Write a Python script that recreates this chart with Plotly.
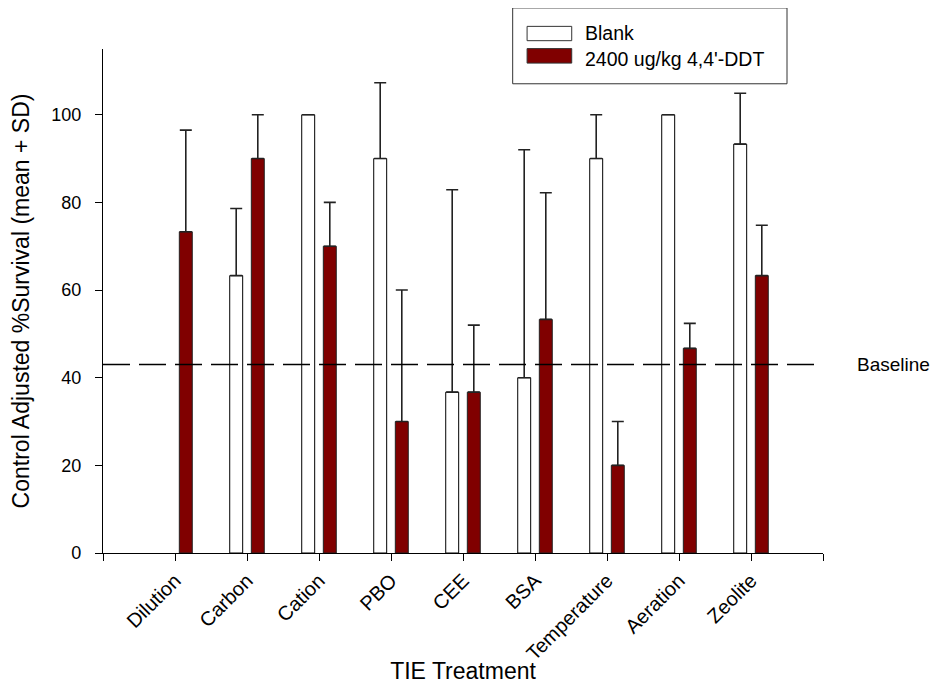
import plotly.graph_objects as go

# TIE treatments, survival (mean + SD)
treatments = ["Dilution", "Carbon", "Cation", "PBO", "CEE", "BSA",
              "Temperature", "Aeration", "Zeolite"]
blank_mean = [None, 63.3, 100, 90, 36.7, 40, 90, 100, 93.3]
blank_sd = [None, 15.3, 0, 17.3, 46.2, 52, 10, 0, 11.6]
ddt_mean = [73.3, 90, 70, 30, 36.7, 53.3, 20, 46.7, 63.3]
ddt_sd = [23.2, 10, 10, 30, 15.3, 28.9, 10, 5.7, 11.5]
baseline = 43
series_names = ["Blank", "2400 ug/kg 4,4'-DDT"]
y_ticks = [0, 20, 40, 60, 80, 100]

FONT = "Liberation Sans, Arial, sans-serif"
RED = "#800000"

xpos = [i + 1 for i in range(len(treatments))]

fig = go.Figure()
fig.add_trace(go.Bar(
    x=xpos, y=blank_mean, name=series_names[0],
    marker=dict(color="white", line=dict(color="black", width=1)),
    error_y=dict(type="data", symmetric=False, array=blank_sd,
                 arrayminus=[0] * len(blank_sd),
                 color="#222", thickness=1.6, width=6),
    showlegend=False,
))
fig.add_trace(go.Bar(
    x=xpos, y=ddt_mean, name=series_names[1],
    marker=dict(color=RED, line=dict(color="#222", width=1)),
    error_y=dict(type="data", symmetric=False, array=ddt_sd,
                 arrayminus=[0] * len(ddt_sd),
                 color="#222", thickness=1.6, width=6),
    showlegend=False,
))

# dashed baseline
fig.add_shape(type="line", xref="x", yref="y", x0=0, x1=len(treatments) + 1,
              y0=baseline, y1=baseline, layer="above",
              line=dict(color="black", width=1.5, dash="27px,9px"))
fig.add_annotation(text="Baseline", xref="paper", yref="y", x=1.045, y=baseline,
                   xanchor="left", yanchor="middle", showarrow=False,
                   font=dict(size=19, color="black", family=FONT))

# legend drawn by hand (wide swatches like the original)
fig.add_shape(type="rect", xref="paper", yref="paper",
              x0=0.569, x1=0.950, y0=0.931, y1=1.0815,
              line=dict(color="#333", width=1), fillcolor="white")
fig.add_shape(type="rect", xref="paper", yref="paper",
              x0=0.589, x1=0.651, y0=1.0165, y1=1.0449,
              line=dict(color="#333", width=1), fillcolor="white")
fig.add_shape(type="rect", xref="paper", yref="paper",
              x0=0.589, x1=0.651, y0=0.9720, y1=1.0008,
              line=dict(color="#333", width=1), fillcolor=RED)
for name, yy in zip(series_names, [1.0308, 0.9811]):
    fig.add_annotation(text=name, xref="paper", yref="paper", x=0.6667, y=yy,
                       xanchor="left", yanchor="middle", showarrow=False,
                       font=dict(size=19.5, color="black", family=FONT))

# the page body has an 8px margin all round, so the figure is sized to fit inside it
fig.update_layout(
    width=924, height=676,
    margin=dict(l=95, r=109, t=41, b=131),
    plot_bgcolor="white", paper_bgcolor="white",
    barmode="group", bargap=0.4, bargroupgap=0.4,
    font=dict(family=FONT, color="black", size=18),
)
fig.update_xaxes(
    range=[0, len(treatments) + 1],
    tickvals=list(range(len(treatments) + 2)),
    ticktext=[""] + treatments + [""],
    tickangle=-45, ticks="outside", ticklen=7, tickcolor="black",
    showline=True, linecolor="black", linewidth=1.2,
    showgrid=False, zeroline=False, automargin=False,
    tickfont=dict(size=20),
    title=dict(text="TIE Treatment", font=dict(size=23), standoff=4),
)
fig.update_yaxes(
    range=[0, 115], tickvals=y_ticks,
    ticks="outside", ticklen=7, tickcolor="black",
    showline=True, linecolor="black", linewidth=1.2,
    showgrid=False, zeroline=False, automargin=False,
    tickfont=dict(size=18), ticklabelstandoff=10,
    title=dict(text="Control Adjusted %Survival (mean + SD)",
               font=dict(size=23), standoff=18),
)

fig.write_html("out.html")
